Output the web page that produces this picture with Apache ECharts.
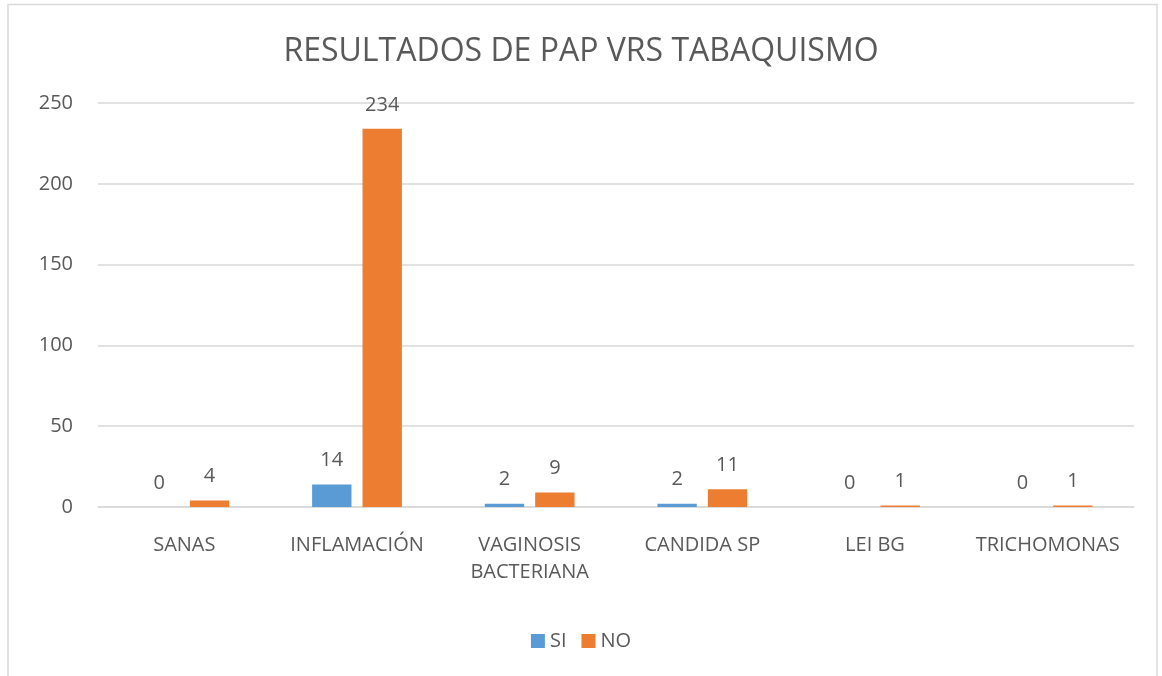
<!DOCTYPE html>
<html>
<head>
<meta charset="utf-8">
<script src="https://cdn.jsdelivr.net/npm/echarts@6/dist/echarts.min.js"></script>
<style>
  html, body { margin: 0; padding: 0; background: #fff; }
  #chart { width: 1162px; height: 676px; }
</style>
</head>
<body>
<div id="chart"></div>
<script>
const categories = ['SANAS', 'INFLAMACIÓN', 'VAGINOSIS\nBACTERIANA', 'CANDIDA SP', 'LEI BG', 'TRICHOMONAS'];
const siValues = [0, 14, 2, 2, 0, 0];
const noValues = [4, 234, 9, 11, 1, 1];
const yTicks = [0, 50, 100, 150, 200, 250];

const fontFamily = '"Open Sans", "Noto Sans", sans-serif';
const textColor = '#595959';

const chart = echarts.init(document.getElementById('chart'));

const barLabel = {
  show: true,
  position: 'top',
  distance: 14,
  color: textColor,
  fontSize: 20,
  fontFamily: fontFamily
};

const option = {
  animation: false,
  textStyle: { fontFamily: fontFamily },
  graphic: [
    {
      type: 'rect',
      shape: { x: 8, y: 4.5, width: 1149, height: 690 },
      style: { fill: 'none', stroke: '#d9d9d9', lineWidth: 1.5 },
      silent: true
    }
  ],
  title: {
    text: 'RESULTADOS DE PAP VRS TABAQUISMO',
    left: 'center',
    top: 31,
    textStyle: {
      color: textColor,
      fontSize: 32,
      fontWeight: 'normal',
      fontFamily: fontFamily
    }
  },
  legend: {
    data: ['SI', 'NO'],
    bottom: 20,
    left: 'center',
    itemWidth: 14,
    itemHeight: 14,
    itemGap: 15,
    icon: 'rect',
    textStyle: { color: textColor, fontSize: 20, fontFamily: fontFamily }
  },
  grid: {
    left: 98,
    right: 28,
    top: 103,
    bottom: 169,
    containLabel: false
  },
  xAxis: {
    type: 'category',
    data: categories,
    axisLine: { show: true, lineStyle: { color: '#d9d9d9', width: 1.5 } },
    axisTick: { show: false },
    axisLabel: {
      color: textColor,
      fontSize: 20,
      fontFamily: fontFamily,
      margin: 25,
      lineHeight: 27,
      interval: 0
    }
  },
  yAxis: {
    type: 'value',
    min: yTicks[0],
    max: yTicks[yTicks.length - 1],
    interval: 50,
    axisLine: { show: false },
    axisTick: { show: false },
    splitLine: { lineStyle: { color: '#d9d9d9', width: 1.5 } },
    axisLabel: {
      color: textColor,
      fontSize: 20,
      fontFamily: fontFamily,
      margin: 25
    }
  },
  series: [
    {
      name: 'SI',
      type: 'bar',
      data: siValues,
      barGap: '28%',
      barCategoryGap: '48%',
      itemStyle: { color: '#5b9bd5' },
      label: barLabel
    },
    {
      name: 'NO',
      type: 'bar',
      data: noValues,
      itemStyle: { color: '#ed7d31' },
      label: barLabel
    }
  ]
};

chart.setOption(option);
</script>
</body>
</html>
